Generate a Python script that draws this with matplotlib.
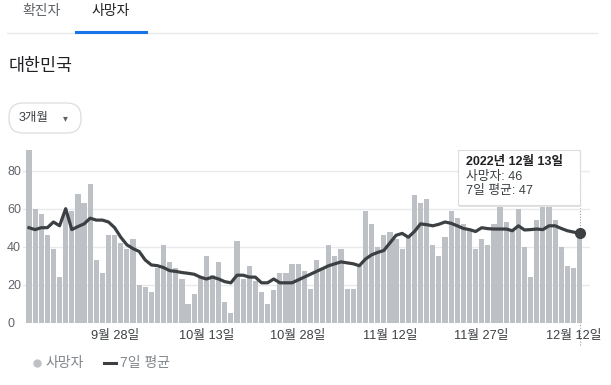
import numpy as np
import pandas as pd
import matplotlib
matplotlib.use("Agg")
import matplotlib.pyplot as plt
from matplotlib.patches import FancyBboxPatch
from matplotlib.lines import Line2D
from matplotlib.transforms import IdentityTransform

plt.rcParams['font.family'] = ['Liberation Sans', 'Noto Sans CJK KR', 'DejaVu Sans']

# daily deaths, 2022-09-14 .. 2022-12-13
dates = pd.date_range("2022-09-14", "2022-12-13", freq="D")
deaths = [91, 60, 57, 46, 39, 24, 59, 59, 68, 63,
          73, 33, 26, 46, 46, 42, 39, 44, 20, 19,
          16, 29, 41, 32, 29, 23, 10, 15, 24, 35,
          25, 32, 11, 5, 43, 23, 30, 22, 16, 10,
          17, 26, 26, 31, 31, 27, 18, 33, 29, 41,
          35, 39, 18, 18, 30, 59, 52, 40, 46, 48,
          44, 39, 45, 67, 63, 65, 41, 35, 45, 59,
          55, 52, 49, 39, 44, 41, 52, 64, 53, 49,
          60, 40, 24, 54, 61, 62, 54, 40, 30, 29,
          46]
avg7 = [50, 49, 50, 50, 53, 51, 60, 49, 50.6, 52,
        55, 54, 54, 53, 50, 45, 41, 39, 37.5, 33,
        30.4, 30, 29, 27.4, 27, 26.4, 26, 25.5, 24, 23,
        24, 23, 21.6, 21, 25, 25, 24, 24, 21, 21,
        23, 21, 21, 21, 22.5, 24, 25.5, 27, 28.5, 30,
        31, 32, 31.5, 31, 30, 33.5, 35.7, 37, 38, 42,
        46, 47, 45, 48, 52, 51.6, 51, 51.8, 53, 52.3,
        51, 49.6, 49, 48, 50, 49.5, 49.3, 49.3, 49.3, 48.4,
        51, 48.8, 49, 49.3, 49, 51, 51, 49.6, 48.4, 47.7,
        47]
tick_dates = ["2022-09-28", "2022-10-13", "2022-10-28", "2022-11-12", "2022-11-27", "2022-12-12"]
tick_labels = ["9월 28일", "10월 13일", "10월 28일", "11월 12일", "11월 27일", "12월 12일"]
y_ticks = [0, 20, 40, 60, 80]

W, H = 611, 385
fig = plt.figure(figsize=(W / 100, H / 100), dpi=100)

def fx(px):
    return px / W

def fy(py):
    return 1 - py / H

x = np.arange(len(deaths))
ax = fig.add_axes([fx(23), fy(322.7), fx(567), 174.8 / H])
ax.bar(x, deaths, width=0.84, color='#bdc1c6', zorder=2)
ax.plot(x, avg7, color='#3c4043', lw=2.3, zorder=3, solid_joinstyle='round')
ax.plot(x[-1], avg7[-1], 'o', color='#3c4043', ms=7, zorder=4)
ax.set_xlim(-0.98, 91.7)
ax.set_ylim(0, 92)

ax.set_yticks(y_ticks)
ax.yaxis.grid(True, color='#e8eaed', lw=1, zorder=0)
ax.tick_params(axis='y', length=0, pad=11.5, labelsize=9, labelcolor='#5f6368')
for lab in ax.get_yticklabels():
    lab.set_horizontalalignment('left')

pos = [dates.get_loc(pd.Timestamp(d)) for d in tick_dates]
ax.set_xticks(pos)
ax.set_xticklabels(tick_labels)
ax.tick_params(axis='x', length=0, pad=5, labelsize=9.2, labelcolor='#3c4043')
for s in ax.spines.values():
    s.set_visible(False)

# hover line + tooltip
ax.axvline(x[-1], ymin=-0.128, ymax=0.99, color='#9aa0a6', lw=0.8,
           ls=(0, (1, 1.5)), clip_on=False, zorder=1)
px = IdentityTransform()
shadow = FancyBboxPatch((459, H - 207), 122, 55, boxstyle="square,pad=0",
                        transform=px, facecolor='#e3e3e3', edgecolor='none', zorder=5)
fig.add_artist(shadow)
tip = FancyBboxPatch((458, H - 205), 122, 55, boxstyle="square,pad=0",
                     transform=px, facecolor='white', edgecolor='#dadce0', lw=0.8, zorder=5)
fig.add_artist(tip)
last = dates[-1]
fig.text(fx(466), fy(162), f"{last.year}년 {last.month}월 {last.day}일",
         fontsize=9, fontweight='bold', color='#202124', va='center', zorder=6)
fig.text(fx(466), fy(177), f"사망자: {deaths[-1]}", fontsize=9.2,
         color='#3c4043', va='center', zorder=6)
fig.text(fx(466), fy(191), f"7일 평균: {round(avg7[-1])}", fontsize=9.2,
         color='#3c4043', va='center', zorder=6)

# tabs header
fig.text(fx(42), fy(11), "확진자", fontsize=10, color='#5f6368', ha='center', va='center')
fig.text(fx(111), fy(11), "사망자", fontsize=10, color='#202124', ha='center', va='center')
fig.add_artist(Line2D([fx(7), fx(597)], [fy(33), fy(33)], color='#e8eaed', lw=1))
fig.add_artist(Line2D([fx(76), fx(146)], [fy(32), fy(32)], color='#1a73e8', lw=2.2))

fig.text(fx(9), fy(66), "대한민국", fontsize=12.5, color='#202124', va='center')

btn = FancyBboxPatch((9, H - 133), 72, 30, boxstyle="round,pad=0,rounding_size=14",
                     transform=px, facecolor='white', edgecolor='#dadce0', lw=0.9)
fig.add_artist(btn)
fig.text(fx(19), fy(118), "3개월", fontsize=9, color='#3c4043', va='center')
fig.text(fx(65), fy(118), "▾", fontsize=7, color='#5f6368', va='center', ha='center',
         family=['DejaVu Sans'])

# legend
fig.add_artist(Line2D([fx(37)], [fy(363)], marker='o', ms=5, color='#bdc1c6', lw=0))
fig.text(fx(45), fy(363), "사망자", fontsize=10, color='#80868b', va='center')
fig.add_artist(Line2D([fx(104), fx(116)], [fy(363), fy(363)], color='#3c4043', lw=2.2))
fig.text(fx(120), fy(363), "7일 평균", fontsize=10, color='#80868b', va='center')

fig.savefig("out.png", dpi=100)
